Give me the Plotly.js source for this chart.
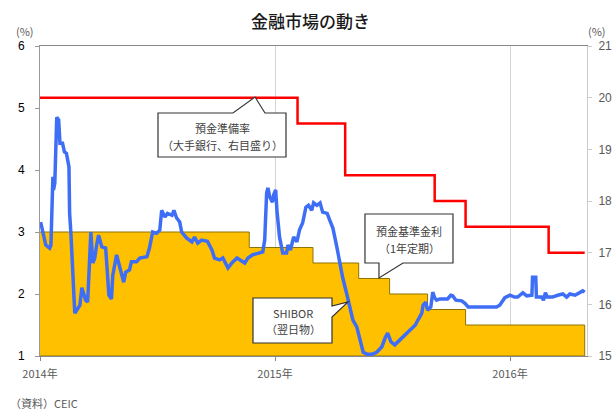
<!DOCTYPE html>
<html>
<head>
<meta charset="utf-8">
<script src="https://cdn.plot.ly/plotly-3.0.1.min.js"></script>
<style>html,body{margin:0;padding:0;background:#fff;}#chart{width:615px;height:410px;}</style>
</head>
<body>
<div id="chart"></div>
<script>
// ---- Data ----
// 預金基準金利（1年定期）, left axis (%)
var depDates = ['2014-01-01','2014-11-22','2015-03-01','2015-05-11','2015-06-28','2015-08-26','2015-10-24','2016-04-26'];
var depRates = [3.0, 2.75, 2.5, 2.25, 2.0, 1.75, 1.5, 1.5];
// 預金準備率（大手銀行）, right axis (%)
var rrrDates = ['2014-01-01','2015-02-05','2015-04-20','2015-09-06','2015-10-24','2016-03-01','2016-04-26'];
var rrrRates = [20.0, 19.5, 18.5, 18.0, 17.5, 17.0, 17.0];
// SHIBOR（翌日物）, left axis (%)
var shiborDates = ['2014-01-02','2014-01-05','2014-01-10','2014-01-16','2014-01-18','2014-01-21','2014-01-22','2014-01-24','2014-01-25','2014-01-27',
'2014-01-30','2014-02-01','2014-02-05','2014-02-08','2014-02-11','2014-02-15','2014-02-16','2014-02-18','2014-02-24','2014-03-04',
'2014-03-07','2014-03-08','2014-03-13','2014-03-16','2014-03-19','2014-03-21','2014-03-24','2014-03-27','2014-03-30','2014-04-02',
'2014-04-07','2014-04-13','2014-04-15','2014-04-18','2014-04-22','2014-04-24','2014-04-30','2014-05-03','2014-05-08','2014-05-11',
'2014-05-14','2014-05-20','2014-05-23','2014-05-31','2014-06-05','2014-06-16','2014-06-20','2014-06-25','2014-07-01','2014-07-06',
'2014-07-09','2014-07-14','2014-07-18','2014-07-25','2014-07-28','2014-08-01','2014-08-06','2014-08-09','2014-08-17','2014-08-25',
'2014-08-29','2014-09-03','2014-09-09','2014-09-18','2014-09-25','2014-09-29','2014-10-07','2014-10-12','2014-10-20','2014-10-26',
'2014-11-03','2014-11-07','2014-11-15','2014-11-20','2014-11-27','2014-12-13','2014-12-16','2014-12-19','2014-12-21','2014-12-24',
'2014-12-28','2014-12-30','2015-01-02','2015-01-04','2015-01-08','2015-01-13','2015-01-19','2015-01-21','2015-01-25','2015-01-30',
'2015-02-04','2015-02-08','2015-02-13','2015-02-18','2015-02-22','2015-02-27','2015-03-02','2015-03-07','2015-03-12','2015-03-16',
'2015-03-23','2015-03-27','2015-04-01','2015-04-07','2015-04-12','2015-04-16','2015-04-22','2015-04-27','2015-05-02','2015-05-08',
'2015-05-13','2015-05-18','2015-05-24','2015-06-01','2015-06-08','2015-06-16','2015-06-21','2015-06-25','2015-06-30','2015-07-06',
'2015-07-14','2015-07-19','2015-07-27','2015-08-02','2015-08-07','2015-08-11','2015-08-17','2015-08-19','2015-08-23','2015-08-26',
'2015-08-31','2015-09-03','2015-09-06','2015-09-09','2015-09-14','2015-09-26','2015-10-01','2015-10-04','2015-10-09','2015-10-18',
'2015-10-23','2015-10-28','2015-11-10','2015-12-01','2015-12-11','2015-12-16','2015-12-24','2016-01-01','2016-01-08','2016-01-13',
'2016-01-21','2016-01-27','2016-02-04','2016-02-05','2016-02-10','2016-02-11','2016-02-19','2016-02-22','2016-02-25','2016-02-28',
'2016-03-07','2016-03-15','2016-03-23','2016-03-29','2016-04-03','2016-04-11','2016-04-19','2016-04-23','2016-04-26'];
var shiborRates = [3.16,3.0,2.79,2.74,2.79,3.89,3.68,3.79,4.05,4.85,
4.81,4.43,4.43,4.29,4.27,4.05,3.3,2.98,1.69,1.82,
2.1,2.06,1.9,1.87,2.66,3.0,2.5,2.58,2.79,2.95,
2.76,2.74,2.44,1.98,1.92,2.3,2.63,2.5,2.26,2.19,
2.35,2.39,2.52,2.52,2.58,2.6,2.74,3.0,2.98,3.03,
3.35,3.24,3.3,3.27,3.35,3.23,3.16,3.0,2.9,2.84,
2.92,2.82,2.87,2.85,2.71,2.58,2.55,2.58,2.42,2.5,
2.58,2.55,2.5,2.58,2.63,2.68,2.87,3.63,3.71,3.56,
3.48,3.6,3.68,3.35,2.92,2.66,2.66,2.79,2.71,2.92,
2.84,3.03,3.15,3.4,3.43,3.35,3.47,3.43,3.47,3.32,
3.3,3.19,3.06,2.76,2.44,2.27,2.02,1.79,1.58,1.47,
1.26,1.06,1.03,1.03,1.06,1.15,1.29,1.37,1.23,1.18,
1.26,1.31,1.39,1.45,1.5,1.58,1.69,1.82,1.87,1.74,
1.79,2.03,1.94,1.9,1.92,1.92,1.98,1.97,1.9,1.89,
1.85,1.79,1.79,1.79,1.79,1.82,1.94,1.98,1.95,1.95,
2.02,1.97,1.98,2.27,2.27,1.95,1.95,1.9,2.02,1.95,
1.95,1.98,2.0,1.95,2.0,1.98,2.02,2.05,2.03];
var xTickVals = ['2014-01-01','2015-01-01','2016-01-01'];
var xTickText = ['2014年','2015年','2016年'];

// ---- Layout helpers ----
var W = 615, H = 410, L = 40, R = 587, T = 46, B = 356;
function px(X){ return (X - L) / (R - L); }
function py(Y){ return (B - Y) / (B - T); }
function path(pts){
  return pts.map(function(p,i){ return (i ? 'L' : 'M') + px(p[0]).toFixed(4) + ',' + py(p[1]).toFixed(4); }).join(' ') + ' Z';
}
var FONT = '"Noto Sans CJK JP", "Noto Sans", sans-serif';

// polygon for the deposit-rate area (closed down to the axis floor)
var depX = depDates.concat([depDates[depDates.length-1], depDates[0]]);
var depY = depRates.concat([1, 1]);

var traces = [
  {x: depX, y: depY, type: 'scatter', mode: 'lines', line: {shape: 'hv', color: '#8f7300', width: 1},
   fill: 'toself', fillcolor: '#FFC000', hoverinfo: 'skip', showlegend: false},
  {x: shiborDates, y: shiborRates, type: 'scatter', mode: 'lines', line: {color: '#3E6EF5', width: 3.5},
   showlegend: false},
  {x: rrrDates, y: rrrRates, type: 'scatter', mode: 'lines', yaxis: 'y2', line: {shape: 'hv', color: '#FF0000', width: 2.5},
   showlegend: false}
];

function calloutShape(pts){
  return {type: 'path', xref: 'paper', yref: 'paper', path: path(pts), fillcolor: '#ffffff',
          line: {color: '#333333', width: 1.2}, layer: 'above'};
}
function txt(X, Y, t, size){
  return {xref: 'paper', yref: 'paper', x: px(X), y: py(Y), text: t, showarrow: false,
          xanchor: 'center', yanchor: 'middle', font: {family: FONT, size: size || 11, color: '#404040'}};
}

var layout = {
  width: W, height: H,
  margin: {l: L, r: W - R, t: T, b: H - B, pad: 0},
  paper_bgcolor: '#ffffff', plot_bgcolor: '#ffffff',
  font: {family: FONT},
  title: {text: '金融市場の動き', x: 0.505, xref: 'container', y: 1 - 22/H, yref: 'container', yanchor: 'middle',
          font: {family: FONT, size: 17, color: '#1a1a1a', weight: 500}},
  xaxis: {type: 'date', range: ['2014-01-01', '2016-04-29 14:00'], tickvals: xTickVals, ticktext: xTickText,
          showgrid: true, gridcolor: '#d4d4d4', gridwidth: 1, showline: true, linecolor: '#888888', linewidth: 1,
          mirror: true, ticks: 'outside', ticklen: 4, tickcolor: '#888888', zeroline: false, ticklabelstandoff: 4,
          tickfont: {family: FONT, size: 11, color: '#595959'}},
  yaxis: {range: [1, 6], dtick: 1, tick0: 1, showgrid: false, showline: true, linecolor: '#999999', linewidth: 1,
          ticks: 'outside', ticklen: 4, tickcolor: '#999999', zeroline: false, ticklabelstandoff: 8,
          tickfont: {family: '"Liberation Sans", Arial, sans-serif', size: 12, color: '#000000'}},
  yaxis2: {overlaying: 'y', side: 'right', range: [15, 21], dtick: 1, tick0: 15, showgrid: false, showline: true,
           linecolor: '#cccccc', linewidth: 1, ticks: 'outside', ticklen: 4, tickcolor: '#cccccc', zeroline: false,
           ticklabelstandoff: 4,
           tickfont: {family: '"Liberation Sans", Arial, sans-serif', size: 12, color: '#595959'}},
  shapes: [
    calloutShape([[158,113],[233,113],[255,97],[265,113],[286,113],[286,157],[158,157]]),
    calloutShape([[365,214],[453,214],[453,263],[403,263],[379,278],[379,263],[365,263]]),
    calloutShape([[253,298],[332,298],[332,306],[348,302],[332,317],[332,343],[253,343]])
  ],
  annotations: [
    txt(222, 128, '預金準備率'),
    txt(222, 145, '（大手銀行、右目盛り）'),
    txt(409, 231, '預金基準金利'),
    txt(409, 248, '（1年定期）'),
    txt(293, 313, 'SHIBOR'),
    txt(293, 329, '（翌日物）'),
    {xref: 'paper', yref: 'paper', x: px(25), y: py(31), text: '(%)', showarrow: false, xanchor: 'center', yanchor: 'middle',
     font: {family: FONT, size: 11, color: '#595959'}},
    {xref: 'paper', yref: 'paper', x: px(597), y: py(31), text: '(%)', showarrow: false, xanchor: 'center', yanchor: 'middle',
     font: {family: FONT, size: 11, color: '#595959'}},
    {xref: 'paper', yref: 'paper', x: px(8), y: py(403), text: '（資料）CEIC', showarrow: false, xanchor: 'left', yanchor: 'middle',
     font: {family: FONT, size: 11, color: '#595959'}}
  ]
};

Plotly.newPlot('chart', traces, layout, {displayModeBar: false, staticPlot: true});
</script>
</body>
</html>
